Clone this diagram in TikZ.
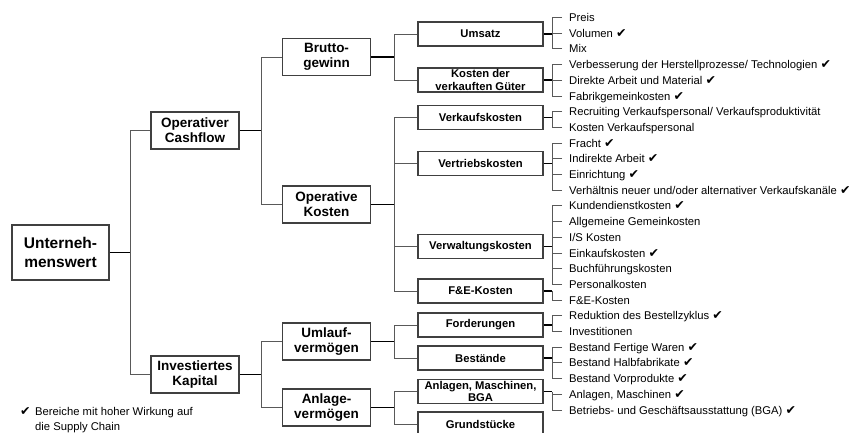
\documentclass[tikz,border=0pt]{standalone}
\usepackage{fontspec}
\setmainfont{Liberation Sans}
\newfontfamily\symfont{DejaVu Sans}
\newcommand{\chk}{{\symfont\fontsize{12.5}{12}\selectfont ✔}}
\begin{document}
\begin{tikzpicture}[x=1pt,y=-1pt,
  rootbox/.style={draw=black!75, line width=1.2pt, fill=white, minimum width=97pt, minimum height=55pt, inner sep=0pt, align=center, font=\fontsize{15.5}{18.3}\selectfont\bfseries},
  midbox/.style={draw=black!75, line width=1.2pt, fill=white, minimum width=88pt, minimum height=37pt, inner sep=0pt, align=center, font=\fontsize{13.5}{15}\selectfont\bfseries},
  lbox/.style={draw=black!75, line width=1.2pt, fill=white, minimum width=125pt, minimum height=24pt, inner sep=0pt, align=center, font=\fontsize{11.25}{12.7}\selectfont\bfseries},
  leaf/.style={anchor=west, inner xsep=7pt, inner ysep=0pt, text height=8pt, text depth=0pt, font=\fontsize{11.25}{13}\selectfont},
  wire/.style={draw=black!65, line width=1pt},
  outwire/.style={draw=black, line width=1.4pt}]
\clip (0,0) rectangle (849,432);
\fill[white] (0,0) rectangle (849,432);
% boxes
\node[rootbox] (uw) at (60.5,252.5) {Unterneh-\\menswert};
\node[midbox] (oc) at (195,130.5) {Operativer\\Cashflow};
\node[midbox] (ik) at (195,374.5) {Investiertes\\Kapital};
\node[midbox] (bg) at (326.5,57) {Brutto-\\gewinn};
\node[midbox] (ok) at (326.5,204.5) {Operative\\Kosten};
\node[midbox] (uv) at (326.5,341.5) {Umlauf-\\vermögen};
\node[midbox] (av) at (326.5,407.5) {Anlage-\\vermögen};
\node[lbox] (um) at (480.5,34) {Umsatz};
\node[lbox] (kg) at (480.5,80) {Kosten der\\verkauften Güter};
\node[lbox] (vk) at (480.5,117.5) {Verkaufskosten};
\node[lbox] (vt) at (480.5,163.5) {Vertriebskosten};
\node[lbox] (vw) at (480.5,246.5) {Verwaltungskosten};
\node[lbox] (fe) at (480.5,291) {F\&E-Kosten};
\node[lbox] (fo) at (480.5,325) {Forderungen};
\node[lbox] (be) at (480.5,358) {Bestände};
\node[lbox] (am) at (480.5,391.5) {Anlagen, Maschinen,\\BGA};
\node[lbox] (gr) at (480.5,424) {Grundstücke};
% leaves
\node[leaf] (l0) at (562,17.5) {Preis};
\node[leaf] (l1) at (562,33.2) {Volumen \chk};
\node[leaf] (l2) at (562,48.9) {Mix};
\node[leaf] (l3) at (562,64.6) {Verbesserung der Herstellprozesse/ Technologien \chk};
\node[leaf] (l4) at (562,80.3) {Direkte Arbeit und Material \chk};
\node[leaf] (l5) at (562,96.0) {Fabrikgemeinkosten \chk};
\node[leaf] (l6) at (562,111.7) {Recruiting Verkaufspersonal/ Verkaufsproduktivität};
\node[leaf] (l7) at (562,127.4) {Kosten Verkaufspersonal};
\node[leaf] (l8) at (562,143.1) {Fracht \chk};
\node[leaf] (l9) at (562,158.8) {Indirekte Arbeit \chk};
\node[leaf] (l10) at (562,174.5) {Einrichtung \chk};
\node[leaf] (l11) at (562,190.2) {Verhältnis neuer und/oder alternativer Verkaufskanäle \chk};
\node[leaf] (l12) at (562,205.9) {Kundendienstkosten \chk};
\node[leaf] (l13) at (562,221.6) {Allgemeine Gemeinkosten};
\node[leaf] (l14) at (562,237.3) {I/S Kosten};
\node[leaf] (l15) at (562,253.0) {Einkaufskosten \chk};
\node[leaf] (l16) at (562,268.7) {Buchführungskosten};
\node[leaf] (l17) at (562,284.4) {Personalkosten};
\node[leaf] (l18) at (562,300.1) {F\&E-Kosten};
\node[leaf] (l19) at (562,315.8) {Reduktion des Bestellzyklus \chk};
\node[leaf] (l20) at (562,331.5) {Investitionen};
\node[leaf] (l21) at (562,347.2) {Bestand Fertige Waren \chk};
\node[leaf] (l22) at (562,362.9) {Bestand Halbfabrikate \chk};
\node[leaf] (l23) at (562,378.6) {Bestand Vorprodukte \chk};
\node[leaf] (l24) at (562,394.3) {Anlagen, Maschinen \chk};
\node[leaf] (l25) at (562,410.0) {Betriebs- und Geschäftsausstattung (BGA) \chk};
% legend
\node[leaf, inner xsep=0pt] (lc) at (20,411) {\chk};
\node[leaf, inner xsep=0pt] (lg1) at (35,411) {Bereiche mit hoher Wirkung auf};
\node[leaf, inner xsep=0pt] (lg2) at (35,426.5) {die Supply Chain};
% trunk coordinates
\coordinate (t0) at (130,252.5);
\coordinate (t1) at (261,130.5);
\coordinate (t2) at (261,374.5);
\coordinate (xa) at (394,0);
\coordinate (bx) at (552,0);
% level 1
\draw[outwire] (uw.east) -- (t0);
\draw[wire] (oc.west) -| (t0);
\draw[wire] (ik.west) -| (t0);
% level 2
\draw[outwire] (oc.east) -- (t1);
\draw[wire] (bg.west) -| (t1);
\draw[wire] (ok.west) -| (t1);
\draw[outwire] (ik.east) -- (t2);
\draw[wire] (uv.west) -| (t2);
\draw[wire] (av.west) -| (t2);
% level 3
\foreach \p/\c in {bg/um, bg/kg, ok/vk, ok/vt, ok/vw, ok/fe, uv/fo, uv/be, av/am, av/gr}{
  \draw[wire] (\c.west) -| (\p.east -| xa);
}
\foreach \p in {bg, ok, uv, av}{
  \draw[outwire] (\p.east) -- (\p.east -| xa);
}
% leaf brackets
\foreach \b/\l in {um/l0, um/l1, um/l2, kg/l3, kg/l4, kg/l5, vk/l6, vk/l7, vt/l8, vt/l9, vt/l10, vt/l11, vw/l12, vw/l13, vw/l14, vw/l15, vw/l16, vw/l17, fe/l18, fo/l19, fo/l20, be/l21, be/l22, be/l23, am/l24, am/l25}{
  \draw[wire] (\l.west) -| (\b.east -| bx);
}
\foreach \b in {um, kg, vk, vt, vw, fe, fo, be, am}{
  \draw[outwire] (\b.east) -- (\b.east -| bx);
}
\end{tikzpicture}
\end{document}
